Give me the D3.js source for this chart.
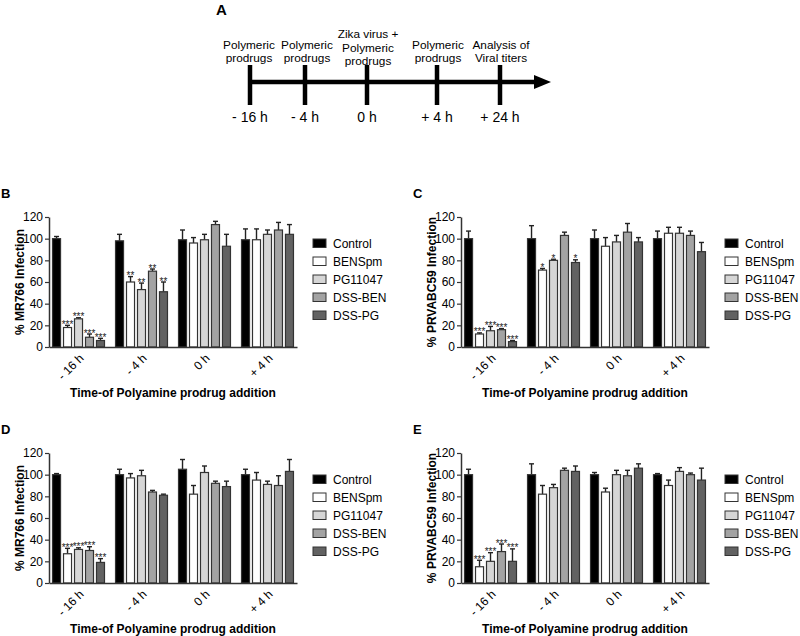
<!DOCTYPE html>
<html><head><meta charset="utf-8">
<script src="https://cdn.jsdelivr.net/npm/d3@7"></script>
<style>body{margin:0;background:#fff;} svg{display:block;font-family:"Liberation Sans",Arial,sans-serif;}</style>
</head><body><svg id="c" width="800" height="636"></svg>
<script>
// ---------- data ----------
const groups = ["- 16 h", "- 4 h", "0 h", "+ 4 h"];
const treatments = ["Control", "BENSpm", "PG11047", "DSS-BEN", "DSS-PG"];
const fills = ["#000000", "#ffffff", "#d6d6d6", "#a3a3a3", "#626262"];
const yTicks = [0, 20, 40, 60, 80, 100, 120];

const meansB = [[100, 18, 26, 9, 6], [98, 60, 53, 70, 51], [99, 96, 99, 113, 93], [99, 99, 104, 108, 104]];
const errsB  = [[2, 2, 1, 3, 2], [6, 5, 6, 2, 9], [9, 5, 5, 3, 11], [10, 10, 4, 7, 9]];
const starsB = [["", "***", "***", "***", "***"], ["", "**", "**", "**", "**"], ["", "", "", "", ""], ["", "", "", "", ""]];

const meansC = [[100, 12, 15, 16, 5], [100, 71, 80, 103, 78], [100, 93, 97, 106, 97], [100, 105, 105, 103, 88]];
const errsC  = [[7, 1, 4, 1, 1], [12, 1.5, 1, 3, 2.5], [8, 8, 6, 8, 4], [7, 5.5, 5.5, 4, 8.5]];
const starsC = [["", "***", "***", "***", "***"], ["", "*", "*", "", "*"], ["", "", "", "", ""], ["", "", "", "", ""]];

const meansD = [[100, 27, 31, 30, 19], [100, 97, 99, 84, 81], [105, 82, 102, 92, 89], [100, 95, 91, 90, 103]];
const errsD  = [[1, 5, 1.5, 3.5, 3.5], [5, 4, 5, 1.5, 1], [9, 8, 6, 2, 5], [5, 7, 3, 9, 11]];
const starsD = [["", "***", "***", "***", "***"], ["", "", "", "", ""], ["", "", "", "", ""], ["", "", "", "", ""]];

const meansE = [[100, 15, 20, 29, 20], [100, 82, 88, 104, 103], [100, 84, 100, 99, 106], [100, 90, 103, 100, 95]];
const errsE  = [[5, 6, 8, 7, 11.5], [10, 8, 3, 2, 5], [2, 3.5, 4, 5, 4], [1, 5, 3.5, 1.5, 11]];
const starsE = [["", "***", "***", "***", "***"], ["", "", "", "", ""], ["", "", "", "", ""], ["", "", "", "", ""]];

const timeHours = [-16, -4, 0, 4, 24];
const timeLabels = ["- 16 h", "- 4 h", "0 h", "+ 4 h", "+ 24 h"];
const eventLabels = [["Polymeric", "prodrugs"], ["Polymeric", "prodrugs"], ["Zika virus +", "Polymeric", "prodrugs"], ["Polymeric", "prodrugs"], ["Analysis of", "Viral titers"]];

const xTitle = "Time-of Polyamine prodrug addition";

// ---------- drawing ----------
const svg = d3.select("#c");

// Panel A: timeline
(function () {
  const g = svg.append("g");
  const t = d3.scaleLinear().domain(timeHours).range([250, 305, 367, 437, 500]);
  const ly = 82;
  g.append("text").attr("x", 216).attr("y", 15).attr("font-size", 15).attr("font-weight", "bold").text("A");
  g.append("line").attr("x1", t(-16) - 2).attr("x2", 537).attr("y1", ly).attr("y2", ly)
    .attr("stroke", "#000").attr("stroke-width", 4.5);
  g.append("path").attr("d", `M534,${ly - 7}L551,${ly}L534,${ly + 7}Z`).attr("fill", "#000");
  timeHours.forEach((h, i) => {
    const x = t(h);
    g.append("line").attr("x1", x).attr("x2", x).attr("y1", 65).attr("y2", 105)
      .attr("stroke", "#000").attr("stroke-width", 4.5);
    g.append("text").attr("x", x).attr("y", 122).attr("text-anchor", "middle")
      .attr("font-size", 14).text(timeLabels[i]);
    const lines = eventLabels[i];
    const lastY = lines.length === 3 ? 65 : 62;
    const dx = i === 0 ? -1 : (i === 1 ? 2 : 1);
    lines.forEach((s, j) => {
      g.append("text").attr("x", x + dx).attr("y", lastY - (lines.length - 1 - j) * 13.5)
        .attr("text-anchor", "middle").attr("font-size", 11.8).text(s);
    });
  });
})();

function drawPanel(cfg) {
  const { letter, ylabel, ax, y0, means, errs, stars } = cfg;
  const g = svg.append("g");
  const x = d3.scaleBand().domain(groups).range([ax, ax + 248]).paddingInner(0.175).paddingOuter(0.056);
  const xi = d3.scaleBand().domain(treatments).range([0, x.bandwidth()]).paddingInner(0.27).paddingOuter(0);
  const y = d3.scaleLinear().domain([0, 120]).range([y0, y0 - 130]);

  g.append("text").attr("x", ax - 48).attr("y", y0 - 149).attr("font-size", 13)
    .attr("font-weight", "bold").text(letter);

  // bars
  groups.forEach((grp, gi) => {
    treatments.forEach((tr, ti) => {
      const v = means[gi][ti], e = errs[gi][ti];
      const bx = x(grp) + xi(tr), bw = xi.bandwidth(), cx = bx + bw / 2;
      g.append("line").attr("x1", cx).attr("x2", cx).attr("y1", y(v)).attr("y2", y(v + e))
        .attr("stroke", "#222").attr("stroke-width", 1.4);
      g.append("line").attr("x1", cx - 2.5).attr("x2", cx + 2.5).attr("y1", y(v + e)).attr("y2", y(v + e))
        .attr("stroke", "#222").attr("stroke-width", 1.4);
      g.append("rect").attr("x", bx).attr("y", y(v)).attr("width", bw).attr("height", y(0) - y(v))
        .attr("fill", fills[ti]).attr("stroke", "#333").attr("stroke-width", 1.2);
      if (stars[gi][ti]) {
        g.append("text").attr("x", cx).attr("y", y(v + e) + 2.5).attr("text-anchor", "middle")
          .attr("font-size", 10).attr("fill", "#222").text(stars[gi][ti]);
      }
    });
  });

  // axes
  const yAxis = d3.axisLeft(y).tickValues(yTicks).tickSize(4).tickSizeOuter(0).tickPadding(2);
  const ya = g.append("g").attr("transform", `translate(${ax},0)`).call(yAxis);
  ya.select(".domain").attr("stroke", "#333").attr("stroke-width", 1.5);
  ya.selectAll(".tick line").attr("stroke", "#333").attr("stroke-width", 1.2);
  ya.selectAll(".tick text").attr("font-size", 12).attr("fill", "#000")
    .attr("font-family", '"Liberation Sans",Arial,sans-serif');

  const xAxis = d3.axisBottom(x).tickSize(0).tickSizeOuter(0).tickPadding(0);
  const xa = g.append("g").attr("transform", `translate(0,${y0})`).call(xAxis);
  xa.select(".domain").attr("stroke", "#333").attr("stroke-width", 1.5);
  xa.selectAll(".tick text").attr("font-size", 12).attr("fill", "#000")
    .attr("font-family", '"Liberation Sans",Arial,sans-serif')
    .attr("text-anchor", "end").attr("dy", "0.35em").attr("y", 0)
    .attr("transform", "translate(3,9) rotate(-45)");

  g.append("text").attr("x", ax + 124).attr("y", y0 + 50).attr("text-anchor", "middle")
    .attr("font-size", 12).attr("font-weight", "bold").text(xTitle);
  g.append("text").attr("transform", `translate(${ax - 25},${y(60)}) rotate(-90)`)
    .attr("text-anchor", "middle").attr("font-size", 12).attr("font-weight", "bold").text(ylabel);

  // legend
  treatments.forEach((tr, ti) => {
    const ly = y0 - 108 + ti * 18;
    g.append("rect").attr("x", ax + 264).attr("y", ly).attr("width", 13).attr("height", 8.5)
      .attr("fill", fills[ti]).attr("stroke", "#333").attr("stroke-width", 1);
    g.append("text").attr("x", ax + 284).attr("y", ly + 8.5).attr("font-size", 12).text(tr);
  });
}

drawPanel({ letter: "B", ylabel: "% MR766 Infection", ax: 49, y0: 347, means: meansB, errs: errsB, stars: starsB });
drawPanel({ letter: "C", ylabel: "% PRVABC59 Infection", ax: 461, y0: 347, means: meansC, errs: errsC, stars: starsC });
drawPanel({ letter: "D", ylabel: "% MR766 Infection", ax: 49, y0: 583, means: meansD, errs: errsD, stars: starsD });
drawPanel({ letter: "E", ylabel: "% PRVABC59 Infection", ax: 461, y0: 583, means: meansE, errs: errsE, stars: starsE });
</script>
</body></html>
